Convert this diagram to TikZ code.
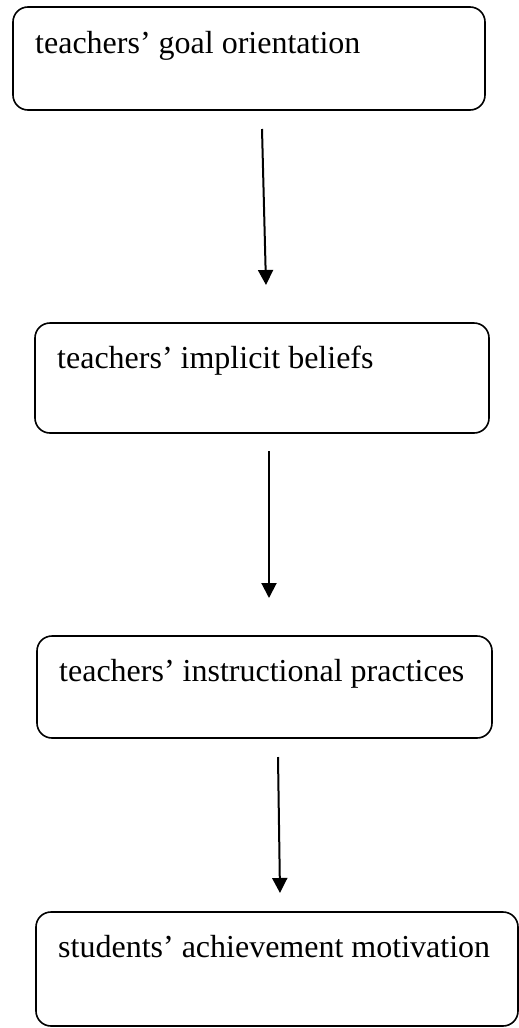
\documentclass[tikz,border=0pt]{standalone}
\usepackage{fontspec}
\setmainfont{Liberation Serif}
\usetikzlibrary{arrows.meta}
\begin{document}
\begin{tikzpicture}[x=1pt,y=-1pt,
 box/.style={draw, line width=1.6pt, rounded corners=15pt, inner sep=0pt, outer sep=0pt, anchor=north west},
 lbl/.style={anchor=base west, inner sep=0pt, font=\fontsize{32}{38}\selectfont},
 arr/.style={line width=2pt, -{Triangle[width=15pt,length=15pt]}}]
\useasboundingbox (0,0) rectangle (519,1028);
\node[box, minimum width=472pt, minimum height=103pt] (b1) at (13,7) {};
\node[box, minimum width=454pt, minimum height=110pt] (b2) at (35,323) {};
\node[box, minimum width=455pt, minimum height=102pt] (b3) at (37,636) {};
\node[box, minimum width=482pt, minimum height=114pt] (b4) at (36,912) {};
\node[lbl] (t1) at (35,53) {teachers’ goal orientation};
\node[lbl] (t2) at (57,368) {teachers’ implicit beliefs};
\node[lbl] (t3) at (59,681) {teachers’ instructional practices};
\node[lbl] (t4) at (58,957) {students’ achievement motivation};
\coordinate (a1s) at (262,129);
\coordinate (a1e) at (266,285);
\coordinate (a2s) at (269,451);
\coordinate (a2e) at (269,598);
\coordinate (a3s) at (278,757);
\coordinate (a3e) at (280,893);
\draw[arr] (a1s) -- (a1e);
\draw[arr] (a2s) -- (a2e);
\draw[arr] (a3s) -- (a3e);
\end{tikzpicture}
\end{document}
